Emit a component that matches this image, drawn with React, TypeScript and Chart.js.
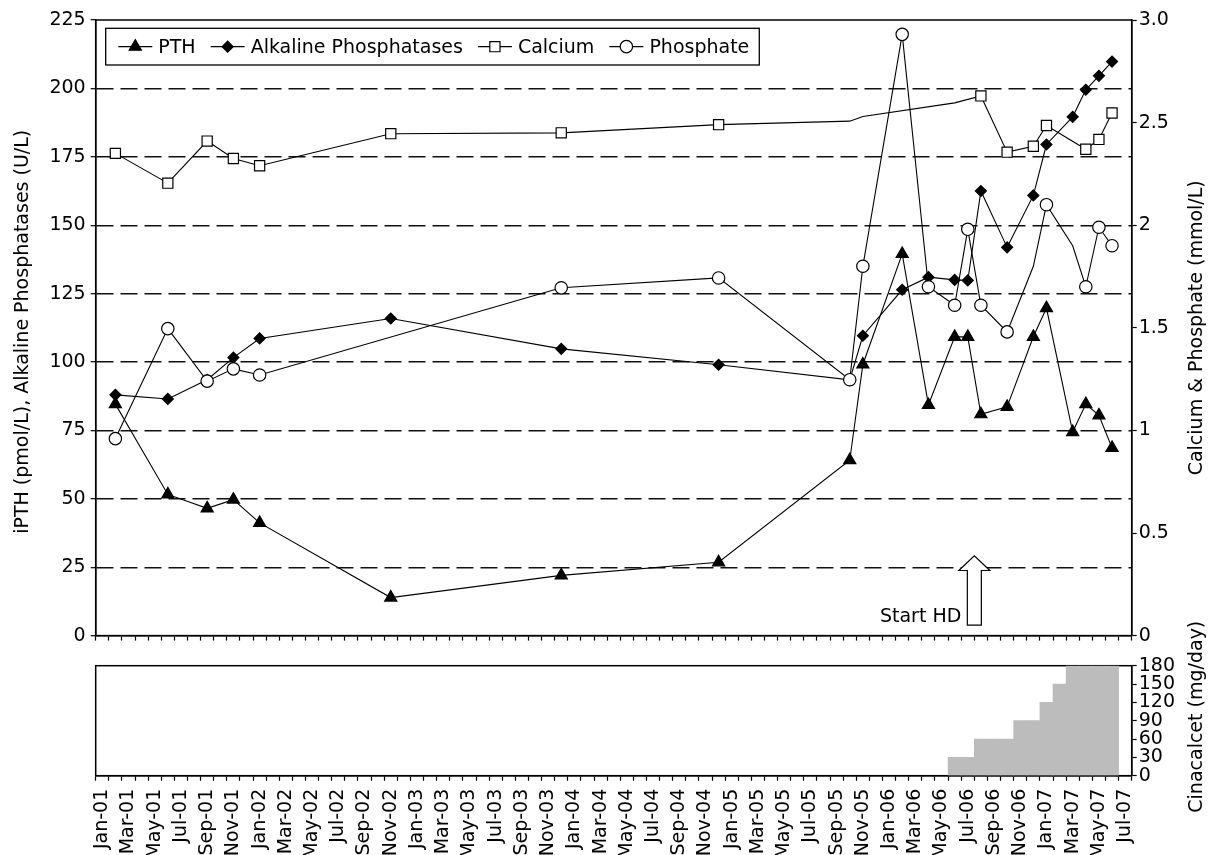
import React, { useEffect, useRef } from 'react';
import { Chart, registerables } from 'chart.js';

Chart.register(...registerables);

// ---------- tick labels ----------
const months = [
  'Jan-01','Feb-01','Mar-01','Apr-01','May-01','Jun-01','Jul-01','Aug-01','Sep-01','Oct-01','Nov-01','Dec-01',
  'Jan-02','Feb-02','Mar-02','Apr-02','May-02','Jun-02','Jul-02','Aug-02','Sep-02','Oct-02','Nov-02','Dec-02',
  'Jan-03','Feb-03','Mar-03','Apr-03','May-03','Jun-03','Jul-03','Aug-03','Sep-03','Oct-03','Nov-03','Dec-03',
  'Jan-04','Feb-04','Mar-04','Apr-04','May-04','Jun-04','Jul-04','Aug-04','Sep-04','Oct-04','Nov-04','Dec-04',
  'Jan-05','Feb-05','Mar-05','Apr-05','May-05','Jun-05','Jul-05','Aug-05','Sep-05','Oct-05','Nov-05','Dec-05',
  'Jan-06','Feb-06','Mar-06','Apr-06','May-06','Jun-06','Jul-06','Aug-06','Sep-06','Oct-06','Nov-06','Dec-06',
  'Jan-07','Feb-07','Mar-07','Apr-07','May-07','Jun-07','Jul-07',
];

// ---------- series (top chart) ----------
const pthDates = ['Feb-01','Jun-01','Sep-01','Nov-01','Jan-02','Nov-02','Dec-03','Dec-04','Oct-05','Nov-05','Feb-06','Apr-06','Jun-06','Jul-06','Aug-06','Oct-06','Dec-06','Jan-07','Mar-07','Apr-07','May-07','Jun-07'];
const pthValues = [84.6, 51.6, 46.5, 49.7, 41.2, 13.9, 22.0, 26.8, 64.1, 99.1, 139.5, 84.3, 109.2, 109.2, 80.9, 83.6, 109.2, 119.7, 74.4, 84.6, 80.5, 68.6];

const alpDates = ['Feb-01','Jun-01','Sep-01','Nov-01','Jan-02','Nov-02','Dec-03','Dec-04','Oct-05','Nov-05','Feb-06','Apr-06','Jun-06','Jul-06','Aug-06','Oct-06','Dec-06','Jan-07','Mar-07','Apr-07','May-07','Jun-07'];
const alpValues = [88.0, 86.5, 93.5, 101.6, 108.6, 115.9, 104.8, 99.0, 93.5, 109.6, 126.4, 131.0, 130.0, 129.8, 162.5, 141.9, 160.9, 179.5, 189.6, 199.5, 204.6, 209.8];

const caDates = ['Feb-01','Jun-01','Sep-01','Nov-01','Jan-02','Nov-02','Dec-03','Dec-04','Oct-05','Nov-05','Jun-06','Aug-06','Oct-06','Dec-06','Jan-07','Apr-07','May-07','Jun-07'];
const caValues = [2.35, 2.205, 2.41, 2.325, 2.29, 2.446, 2.45, 2.49, 2.507, 2.53, 2.596, 2.63, 2.356, 2.385, 2.486, 2.37, 2.418, 2.547];
const caNoMarker = ['Oct-05','Nov-05','Jun-06'];

const phDates = ['Feb-01','Jun-01','Sep-01','Nov-01','Jan-02','Dec-03','Dec-04','Oct-05','Nov-05','Feb-06','Apr-06','Jun-06','Jul-06','Aug-06','Oct-06','Dec-06','Jan-07','Mar-07','Apr-07','May-07','Jun-07'];
const phValues = [0.96, 1.496, 1.24, 1.30, 1.27, 1.695, 1.743, 1.247, 1.80, 2.93, 1.70, 1.61, 1.98, 1.61, 1.48, 1.80, 2.10, 1.90, 1.70, 1.99, 1.90];
const phNoMarker = ['Dec-06','Mar-07'];

// ---------- cinacalcet (bottom chart) ----------
const cinaMonths = ['Jun-06','Jul-06','Aug-06','Sep-06','Oct-06','Nov-06','Dec-06','Jan-07','Feb-07','Mar-07','Apr-07','May-07','Jun-07'];
const cinaDoses = [30, 30, 60, 60, 60, 90, 90, 120, 150, 180, 180, 180, 180];

// ---------- axis tick values ----------
const leftTicks = [0, 25, 50, 75, 100, 125, 150, 175, 200, 225];
const rightTicks = [0, 0.5, 1, 1.5, 2, 2.5, 3];
const cinaTicks = [0, 30, 60, 90, 120, 150, 180];

const FONT = '"DejaVu Sans", "Liberation Sans", sans-serif';
const FS = 19;

const zip = (d: string[], v: number[]) => d.map((x, i) => ({ x, y: v[i] }));

function drawMarker(ctx: CanvasRenderingContext2D, style: string, x: number, y: number, r: number, fill: string) {
  ctx.save();
  ctx.beginPath();
  if (style === 'triangle') {
    ctx.moveTo(x, y - r);
    ctx.lineTo(x + 0.866 * r, y + 0.5 * r);
    ctx.lineTo(x - 0.866 * r, y + 0.5 * r);
    ctx.closePath();
  } else if (style === 'rectRot') {
    ctx.moveTo(x - r, y); ctx.lineTo(x, y - r); ctx.lineTo(x + r, y); ctx.lineTo(x, y + r); ctx.closePath();
  } else if (style === 'rect') {
    const s = Math.SQRT1_2 * r;
    ctx.rect(x - s, y - s, 2 * s, 2 * s);
  } else {
    ctx.arc(x, y, r, 0, Math.PI * 2);
  }
  ctx.fillStyle = fill;
  ctx.fill();
  ctx.lineWidth = 1.2;
  ctx.strokeStyle = '#000';
  ctx.stroke();
  ctx.restore();
}

function rotText(ctx: CanvasRenderingContext2D, text: string, x: number, y: number) {
  ctx.save();
  ctx.translate(x, y);
  ctx.rotate(-Math.PI / 2);
  ctx.font = `${FS}px ${FONT}`;
  ctx.fillStyle = '#000';
  ctx.textAlign = 'center';
  ctx.textBaseline = 'middle';
  ctx.fillText(text, 0, 0);
  ctx.restore();
}

const framePlugin = {
  id: 'frame',
  beforeDatasetsDraw(chart: any) {
    const a = chart.chartArea;
    const ctx = chart.ctx;
    ctx.save();
    ctx.strokeStyle = '#000';
    ctx.lineWidth = 1.5;
    ctx.strokeRect(a.left, a.top, a.right - a.left, a.bottom - a.top);
    ctx.restore();
  },
};

const legendItems = [
  { label: 'PTH', style: 'triangle', r: 7, fill: '#000' },
  { label: 'Alkaline Phosphatases', style: 'rectRot', r: 5.5, fill: '#000' },
  { label: 'Calcium', style: 'rect', r: 7.2, fill: '#fff' },
  { label: 'Phosphate', style: 'circle', r: 6.2, fill: '#fff' },
];

const legendPlugin = {
  id: 'customLegend',
  afterDraw(chart: any) {
    const ctx = chart.ctx;
    const a = chart.chartArea;
    const bx = a.left + 10, by = a.top + 8.3, bh = 36.7;
    const lineLen = 34, textGap = 6, itemGap = 15, padL = 12.6, padR = 10;
    ctx.save();
    ctx.font = `${FS}px ${FONT}`;
    let w = padL;
    legendItems.forEach((it, i) => {
      w += lineLen + textGap + ctx.measureText(it.label).width + (i < legendItems.length - 1 ? itemGap : 0);
    });
    w += padR;
    ctx.fillStyle = '#fff';
    ctx.fillRect(bx, by, w, bh);
    ctx.strokeStyle = '#000';
    ctx.lineWidth = 1.3;
    ctx.strokeRect(bx, by, w, bh);
    const cy = by + bh / 2;
    let x = bx + padL;
    legendItems.forEach((it) => {
      ctx.beginPath();
      ctx.moveTo(x, cy);
      ctx.lineTo(x + lineLen, cy);
      ctx.lineWidth = 1.2;
      ctx.strokeStyle = '#000';
      ctx.stroke();
      drawMarker(ctx, it.style, x + lineLen / 2, cy, it.r, it.fill);
      x += lineLen + textGap;
      ctx.fillStyle = '#000';
      ctx.textAlign = 'left';
      ctx.textBaseline = 'middle';
      ctx.font = `${FS}px ${FONT}`;
      ctx.fillText(it.label, x, cy + 1);
      x += ctx.measureText(it.label).width + itemGap;
    });
    ctx.restore();
  },
};

const startHdPlugin = {
  id: 'startHd',
  afterDatasetsDraw(chart: any) {
    const ctx = chart.ctx;
    const xs = chart.scales.x;
    const ys = chart.scales.y;
    const ax = (xs.getPixelForValue(months.indexOf('Jul-06')) + xs.getPixelForValue(months.indexOf('Aug-06'))) / 2;
    const yb = ys.getPixelForValue(3.8);
    const yt = ys.getPixelForValue(23.8);
    const yap = ys.getPixelForValue(29.2);
    const sw = 7, hw = 15.5;
    ctx.save();
    ctx.beginPath();
    ctx.moveTo(ax - sw, yb);
    ctx.lineTo(ax - sw, yt);
    ctx.lineTo(ax - hw, yt);
    ctx.lineTo(ax, yap);
    ctx.lineTo(ax + hw, yt);
    ctx.lineTo(ax + sw, yt);
    ctx.lineTo(ax + sw, yb);
    ctx.closePath();
    ctx.fillStyle = '#fff';
    ctx.fill();
    ctx.strokeStyle = '#000';
    ctx.lineWidth = 1.2;
    ctx.stroke();
    ctx.font = `${FS}px ${FONT}`;
    ctx.fillStyle = '#000';
    ctx.textAlign = 'right';
    ctx.textBaseline = 'middle';
    ctx.fillText('Start HD', ax - 13, ys.getPixelForValue(6.7));
    ctx.restore();
  },
};

const topTitlesPlugin = {
  id: 'topTitles',
  afterDraw(chart: any) {
    const a = chart.chartArea;
    const cy = (a.top + a.bottom) / 2;
    rotText(chart.ctx, 'iPTH (pmol/L), Alkaline Phosphatases (U/L)', 23, cy + 4);
    rotText(chart.ctx, 'Calcium & Phosphate (mmol/L)', 1197, cy);
  },
};

const botTitlesPlugin = {
  id: 'botTitles',
  afterDraw(chart: any) {
    const a = chart.chartArea;
    rotText(chart.ctx, 'Cinacalcet (mg/day)', 1197, (a.top + a.bottom) / 2 - 4);
  },
};

const TOP_H = 652;
const BOT_TOP = 600;
const BOT_H = 855 - BOT_TOP;
const PLOT_LEFT = 95.7;
const PLOT_RIGHT = 1131.7;

export default function App() {
  const topRef = useRef<HTMLCanvasElement | null>(null);
  const botRef = useRef<HTMLCanvasElement | null>(null);

  useEffect(() => {
    Chart.defaults.font.family = FONT;
    Chart.defaults.font.size = FS;
    Chart.defaults.color = '#000';

    const lineDs = (label: string, data: any[], style: string, r: number, fill: string, axis: string, order: number, noMarker: string[] = []) => ({
      label,
      data,
      yAxisID: axis,
      borderColor: '#000',
      borderWidth: 1.1,
      tension: 0,
      pointStyle: style,
      pointRadius: (c: any) => (c.raw && noMarker.includes(c.raw.x) ? 0 : r),
      pointHoverRadius: (c: any) => (c.raw && noMarker.includes(c.raw.x) ? 0 : r),
      pointBackgroundColor: fill,
      pointBorderColor: '#000',
      pointBorderWidth: 1.2,
      fill: false,
      order,
    });

    const top = new Chart(topRef.current as HTMLCanvasElement, {
      type: 'line',
      data: {
        labels: months,
        datasets: [
          lineDs('PTH', zip(pthDates, pthValues), 'triangle', 7, '#000', 'y', 4),
          lineDs('Alkaline Phosphatases', zip(alpDates, alpValues), 'rectRot', 5.5, '#000', 'y', 3),
          lineDs('Calcium', zip(caDates, caValues), 'rect', 7.2, '#fff', 'y1', 2, caNoMarker),
          lineDs('Phosphate', zip(phDates, phValues), 'circle', 6.2, '#fff', 'y1', 1, phNoMarker),
        ] as any,
      },
      options: {
        responsive: false,
        animation: false,
        events: [],
        layout: { padding: { top: 20, left: 0, right: 0, bottom: 0 } },
        plugins: { legend: { display: false }, tooltip: { enabled: false } },
        scales: {
          x: {
            type: 'category',
            offset: true,
            grid: { offset: true, drawOnChartArea: false, tickLength: 5, tickColor: '#000', tickWidth: 1.2 },
            border: { display: true, color: '#000', width: 1.5 },
            ticks: { display: false },
            afterFit: (s: any) => { s.height = TOP_H - 638.5; },
          },
          y: {
            position: 'left',
            min: 0,
            max: 225,
            afterBuildTicks: (s: any) => { s.ticks = leftTicks.map((v) => ({ value: v })); },
            ticks: { font: { size: FS, family: FONT }, color: '#000', padding: 5 },
            grid: {
              color: (c: any) => (c.tick && (c.tick.value === 0 || c.tick.value === 225) ? 'rgba(0,0,0,0)' : '#111'),
              lineWidth: 1.4,
              tickLength: 5,
              tickColor: '#000',
              tickWidth: 1.2,
            },
            border: { display: true, color: '#000', width: 1.5, dash: [17, 7] },
            afterFit: (s: any) => { s.width = PLOT_LEFT; },
          },
          y1: {
            position: 'right',
            min: 0,
            max: 3,
            afterBuildTicks: (s: any) => { s.ticks = rightTicks.map((v) => ({ value: v })); },
            ticks: {
              font: { size: FS, family: FONT },
              color: '#000',
              padding: 2,
              callback: (v: any) => (v === 3 ? '3.0' : String(v)),
            },
            grid: { drawOnChartArea: false, tickLength: 5, tickColor: '#000', tickWidth: 1.2 },
            border: { display: true, color: '#000', width: 1.5 },
            afterFit: (s: any) => { s.width = 1209 - PLOT_RIGHT; },
          },
        },
      } as any,
      plugins: [framePlugin, startHdPlugin, legendPlugin, topTitlesPlugin],
    });

    const bot = new Chart(botRef.current as HTMLCanvasElement, {
      type: 'bar',
      data: {
        labels: months,
        datasets: [
          {
            label: 'Cinacalcet',
            data: zip(cinaMonths, cinaDoses),
            backgroundColor: '#bcbcbc',
            borderWidth: 0,
            categoryPercentage: 1,
            barPercentage: 1,
          },
        ] as any,
      },
      options: {
        responsive: false,
        animation: false,
        events: [],
        layout: { padding: { top: 665.7 - BOT_TOP, left: PLOT_LEFT, right: 0, bottom: 0 } },
        plugins: { legend: { display: false }, tooltip: { enabled: false } },
        scales: {
          x: {
            type: 'category',
            offset: true,
            grid: { offset: true, drawOnChartArea: false, tickLength: 5, tickColor: '#000', tickWidth: 1.2 },
            border: { display: true, color: '#000', width: 1.5 },
            ticks: {
              autoSkip: false,
              minRotation: 90,
              maxRotation: 90,
              padding: 8,
              font: { size: FS, family: FONT },
              color: '#000',
              callback: (_v: any, i: number) => (i % 2 === 0 ? months[i] : ''),
            },
            afterFit: (s: any) => { s.height = BOT_H - (775.7 - BOT_TOP); },
          },
          y: {
            position: 'right',
            min: 0,
            max: 180,
            afterBuildTicks: (s: any) => { s.ticks = cinaTicks.map((v) => ({ value: v })); },
            ticks: { autoSkip: false, font: { size: FS, family: FONT }, color: '#000', padding: 2 },
            grid: { drawOnChartArea: false, tickLength: 5, tickColor: '#000', tickWidth: 1.2 },
            border: { display: true, color: '#000', width: 1.5 },
            afterFit: (s: any) => { s.width = 1209 - PLOT_RIGHT; },
          },
        },
      } as any,
      plugins: [framePlugin, botTitlesPlugin],
    });

    return () => {
      top.destroy();
      bot.destroy();
    };
  }, []);

  return (
    <div style={{ position: 'absolute', left: 0, top: 0, width: 1209, height: 855, overflow: 'hidden', background: '#fff' }}>
      <canvas ref={topRef} width={1209} height={TOP_H} style={{ position: 'absolute', left: 0, top: 0, width: 1209, height: TOP_H }} />
      <canvas ref={botRef} width={1209} height={BOT_H} style={{ position: 'absolute', left: 0, top: BOT_TOP, width: 1209, height: BOT_H }} />
    </div>
  );
}
